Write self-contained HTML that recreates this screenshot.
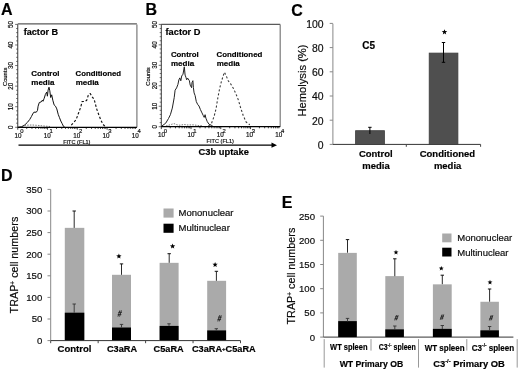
<!DOCTYPE html>
<html><head><meta charset="utf-8"><style>
html,body{margin:0;padding:0;background:#fff;width:520px;height:372px;overflow:hidden;}
svg{filter:grayscale(1) blur(0.3px);}
text{stroke:#000;stroke-width:0.18px;}
text{font-family:"Liberation Sans", sans-serif;}
</style></head><body>
<svg width="520" height="372" viewBox="0 0 520 372" style="display:block">
<g font-family='"Liberation Sans", sans-serif'>
<rect x="0" y="0" width="520" height="372" fill="#fff"/>
<text x="1.0" y="15.2" font-size="16" font-weight="bold" >A</text>
<text x="145.5" y="15.2" font-size="16" font-weight="bold" >B</text>
<text x="291.3" y="15.6" font-size="16" font-weight="bold" >C</text>
<text x="1.0" y="181.2" font-size="16" font-weight="bold" >D</text>
<text x="281.8" y="207.8" font-size="16" font-weight="bold" >E</text>
<line x1="17.75" y1="23.95" x2="136.9" y2="23.95" stroke="#5a5a5a" stroke-width="1.25" />
<line x1="136.9" y1="24.4" x2="136.9" y2="127.3" stroke="#7a7a7a" stroke-width="1.2" />
<line x1="17.75" y1="24.4" x2="17.75" y2="127.3" stroke="#222" stroke-width="0.9" />
<line x1="15.15" y1="127.3" x2="17.75" y2="127.3" stroke="#333" stroke-width="0.7" />
<line x1="16.15" y1="123.184" x2="17.75" y2="123.184" stroke="#333" stroke-width="0.7" />
<line x1="16.15" y1="119.068" x2="17.75" y2="119.068" stroke="#333" stroke-width="0.7" />
<line x1="16.15" y1="114.952" x2="17.75" y2="114.952" stroke="#333" stroke-width="0.7" />
<line x1="16.15" y1="110.836" x2="17.75" y2="110.836" stroke="#333" stroke-width="0.7" />
<line x1="15.15" y1="106.72" x2="17.75" y2="106.72" stroke="#333" stroke-width="0.7" />
<line x1="16.15" y1="102.60399999999998" x2="17.75" y2="102.60399999999998" stroke="#333" stroke-width="0.7" />
<line x1="16.15" y1="98.488" x2="17.75" y2="98.488" stroke="#333" stroke-width="0.7" />
<line x1="16.15" y1="94.37199999999999" x2="17.75" y2="94.37199999999999" stroke="#333" stroke-width="0.7" />
<line x1="16.15" y1="90.256" x2="17.75" y2="90.256" stroke="#333" stroke-width="0.7" />
<line x1="15.15" y1="86.13999999999999" x2="17.75" y2="86.13999999999999" stroke="#333" stroke-width="0.7" />
<line x1="16.15" y1="82.024" x2="17.75" y2="82.024" stroke="#333" stroke-width="0.7" />
<line x1="16.15" y1="77.90799999999999" x2="17.75" y2="77.90799999999999" stroke="#333" stroke-width="0.7" />
<line x1="16.15" y1="73.79199999999999" x2="17.75" y2="73.79199999999999" stroke="#333" stroke-width="0.7" />
<line x1="16.15" y1="69.67599999999999" x2="17.75" y2="69.67599999999999" stroke="#333" stroke-width="0.7" />
<line x1="15.15" y1="65.55999999999999" x2="17.75" y2="65.55999999999999" stroke="#333" stroke-width="0.7" />
<line x1="16.15" y1="61.44399999999999" x2="17.75" y2="61.44399999999999" stroke="#333" stroke-width="0.7" />
<line x1="16.15" y1="57.32799999999999" x2="17.75" y2="57.32799999999999" stroke="#333" stroke-width="0.7" />
<line x1="16.15" y1="53.21199999999999" x2="17.75" y2="53.21199999999999" stroke="#333" stroke-width="0.7" />
<line x1="16.15" y1="49.09599999999999" x2="17.75" y2="49.09599999999999" stroke="#333" stroke-width="0.7" />
<line x1="15.15" y1="44.97999999999999" x2="17.75" y2="44.97999999999999" stroke="#333" stroke-width="0.7" />
<line x1="16.15" y1="40.86399999999999" x2="17.75" y2="40.86399999999999" stroke="#333" stroke-width="0.7" />
<line x1="16.15" y1="36.74799999999999" x2="17.75" y2="36.74799999999999" stroke="#333" stroke-width="0.7" />
<line x1="16.15" y1="32.63199999999999" x2="17.75" y2="32.63199999999999" stroke="#333" stroke-width="0.7" />
<line x1="16.15" y1="28.515999999999977" x2="17.75" y2="28.515999999999977" stroke="#333" stroke-width="0.7" />
<line x1="15.15" y1="24.399999999999977" x2="17.75" y2="24.399999999999977" stroke="#333" stroke-width="0.7" />
<text x="13.45" y="127.3" font-size="6.3" text-anchor="middle" fill="#222" transform="rotate(-90 13.45 127.3)" >0</text>
<text x="13.45" y="106.72" font-size="6.3" text-anchor="middle" fill="#222" transform="rotate(-90 13.45 106.72)" >10</text>
<text x="13.45" y="86.13999999999999" font-size="6.3" text-anchor="middle" fill="#222" transform="rotate(-90 13.45 86.13999999999999)" >20</text>
<text x="13.45" y="65.55999999999999" font-size="6.3" text-anchor="middle" fill="#222" transform="rotate(-90 13.45 65.55999999999999)" >30</text>
<text x="13.45" y="44.97999999999999" font-size="6.3" text-anchor="middle" fill="#222" transform="rotate(-90 13.45 44.97999999999999)" >40</text>
<text x="13.45" y="24.399999999999977" font-size="6.3" text-anchor="middle" fill="#222" transform="rotate(-90 13.45 24.399999999999977)" >50</text>
<text x="6.65" y="76.85" font-size="6.0" text-anchor="middle" fill="#222" textLength="18.4" lengthAdjust="spacingAndGlyphs" transform="rotate(-90 6.65 76.85)" >Counts</text>
<text x="18.05" y="137.7" font-size="6.3" text-anchor="middle" fill="#222" >10</text>
<text x="21.95" y="133.4" font-size="5.9" text-anchor="middle" fill="#222" >0</text>
<text x="47.35" y="137.7" font-size="6.3" text-anchor="middle" fill="#222" >10</text>
<text x="51.25" y="133.4" font-size="5.9" text-anchor="middle" fill="#222" >1</text>
<text x="76.65" y="137.7" font-size="6.3" text-anchor="middle" fill="#222" >10</text>
<text x="80.55000000000001" y="133.4" font-size="5.9" text-anchor="middle" fill="#222" >2</text>
<text x="105.95" y="137.7" font-size="6.3" text-anchor="middle" fill="#222" >10</text>
<text x="109.85000000000001" y="133.4" font-size="5.9" text-anchor="middle" fill="#222" >3</text>
<text x="135.25" y="137.7" font-size="6.3" text-anchor="middle" fill="#222" >10</text>
<text x="139.15" y="133.4" font-size="5.9" text-anchor="middle" fill="#222" >4</text>
<line x1="17.75" y1="127.3" x2="17.75" y2="129.7" stroke="#111" stroke-width="0.8" />
<line x1="26.71693099584084" y1="127.3" x2="26.71693099584084" y2="128.9" stroke="#111" stroke-width="0.8" />
<line x1="31.962249374961946" y1="127.3" x2="31.962249374961946" y2="128.9" stroke="#111" stroke-width="0.8" />
<line x1="35.68386199168168" y1="127.3" x2="35.68386199168168" y2="128.9" stroke="#111" stroke-width="0.8" />
<line x1="38.57056900415917" y1="127.3" x2="38.57056900415917" y2="128.9" stroke="#111" stroke-width="0.8" />
<line x1="40.92918037080278" y1="127.3" x2="40.92918037080278" y2="128.9" stroke="#111" stroke-width="0.8" />
<line x1="42.923357866924675" y1="127.3" x2="42.923357866924675" y2="128.9" stroke="#111" stroke-width="0.8" />
<line x1="44.65079298752252" y1="127.3" x2="44.65079298752252" y2="128.9" stroke="#111" stroke-width="0.8" />
<line x1="46.17449874992389" y1="127.3" x2="46.17449874992389" y2="128.9" stroke="#111" stroke-width="0.8" />
<line x1="47.5375" y1="127.3" x2="47.5375" y2="129.7" stroke="#111" stroke-width="0.8" />
<line x1="56.50443099584084" y1="127.3" x2="56.50443099584084" y2="128.9" stroke="#111" stroke-width="0.8" />
<line x1="61.74974937496195" y1="127.3" x2="61.74974937496195" y2="128.9" stroke="#111" stroke-width="0.8" />
<line x1="65.47136199168168" y1="127.3" x2="65.47136199168168" y2="128.9" stroke="#111" stroke-width="0.8" />
<line x1="68.35806900415916" y1="127.3" x2="68.35806900415916" y2="128.9" stroke="#111" stroke-width="0.8" />
<line x1="70.71668037080279" y1="127.3" x2="70.71668037080279" y2="128.9" stroke="#111" stroke-width="0.8" />
<line x1="72.71085786692467" y1="127.3" x2="72.71085786692467" y2="128.9" stroke="#111" stroke-width="0.8" />
<line x1="74.43829298752252" y1="127.3" x2="74.43829298752252" y2="128.9" stroke="#111" stroke-width="0.8" />
<line x1="75.9619987499239" y1="127.3" x2="75.9619987499239" y2="128.9" stroke="#111" stroke-width="0.8" />
<line x1="77.325" y1="127.3" x2="77.325" y2="129.7" stroke="#111" stroke-width="0.8" />
<line x1="86.29193099584084" y1="127.3" x2="86.29193099584084" y2="128.9" stroke="#111" stroke-width="0.8" />
<line x1="91.53724937496195" y1="127.3" x2="91.53724937496195" y2="128.9" stroke="#111" stroke-width="0.8" />
<line x1="95.25886199168168" y1="127.3" x2="95.25886199168168" y2="128.9" stroke="#111" stroke-width="0.8" />
<line x1="98.14556900415917" y1="127.3" x2="98.14556900415917" y2="128.9" stroke="#111" stroke-width="0.8" />
<line x1="100.50418037080279" y1="127.3" x2="100.50418037080279" y2="128.9" stroke="#111" stroke-width="0.8" />
<line x1="102.49835786692468" y1="127.3" x2="102.49835786692468" y2="128.9" stroke="#111" stroke-width="0.8" />
<line x1="104.22579298752252" y1="127.3" x2="104.22579298752252" y2="128.9" stroke="#111" stroke-width="0.8" />
<line x1="105.7494987499239" y1="127.3" x2="105.7494987499239" y2="128.9" stroke="#111" stroke-width="0.8" />
<line x1="107.11250000000001" y1="127.3" x2="107.11250000000001" y2="129.7" stroke="#111" stroke-width="0.8" />
<line x1="116.07943099584085" y1="127.3" x2="116.07943099584085" y2="128.9" stroke="#111" stroke-width="0.8" />
<line x1="121.32474937496195" y1="127.3" x2="121.32474937496195" y2="128.9" stroke="#111" stroke-width="0.8" />
<line x1="125.04636199168169" y1="127.3" x2="125.04636199168169" y2="128.9" stroke="#111" stroke-width="0.8" />
<line x1="127.93306900415918" y1="127.3" x2="127.93306900415918" y2="128.9" stroke="#111" stroke-width="0.8" />
<line x1="130.2916803708028" y1="127.3" x2="130.2916803708028" y2="128.9" stroke="#111" stroke-width="0.8" />
<line x1="132.2858578669247" y1="127.3" x2="132.2858578669247" y2="128.9" stroke="#111" stroke-width="0.8" />
<line x1="134.01329298752253" y1="127.3" x2="134.01329298752253" y2="128.9" stroke="#111" stroke-width="0.8" />
<line x1="135.5369987499239" y1="127.3" x2="135.5369987499239" y2="128.9" stroke="#111" stroke-width="0.8" />
<text x="76.825" y="143.9" font-size="5.6" text-anchor="middle" fill="#222" >FITC (FL1)</text>
<polyline points="17.75,127.3 21.8,126.7 24.8,124.9 27.3,122.5 29.7,119.5 31.5,116.4 32.7,114 33.9,112.2 36.3,112.2 37.5,110.4 38.1,106.2 39.3,102.5 41.2,101.9 42.4,100.1 43,101.3 44.2,98.3 45.4,94.4 46.7,92.1 47.4,96.2 48.1,90.1 49,87.2 49.8,90.8 50.7,97.5 51.7,94.8 52.8,100.2 54.1,104.9 55.5,106.2 56.8,108.9 58.2,114.3 59.5,117.7 60.8,121 62.2,123.7 63.5,126.4 64.9,127.3" fill="none" stroke="#111" stroke-width="1.0" stroke-linejoin="round"/>
<polyline points="71.3,125.1 76.1,119.7 78.1,114.3 80.8,106.9 82.1,101.5 84.8,101.5 86.8,100.2 88.2,95.5 90.2,93.5 92.2,96.8 94.2,99.5 95.6,104.9 96.9,109.6 98.9,115 101,120.4 103,124.4 105,126.4" fill="none" stroke="#111" stroke-width="1.15" stroke-linejoin="round" stroke-dasharray="2.4,1.9"/>
<polyline points="22,126.5 26,125.2 32,125 38,125.4 44,126 50,126.5" fill="none" stroke="#444" stroke-width="0.7" stroke-linejoin="round" stroke-dasharray="1.5,1.2"/>
<line x1="17.75" y1="127.3" x2="136.9" y2="127.3" stroke="#000" stroke-width="1.3" />
<text x="23.65" y="34.7" font-size="9.0" font-weight="bold" textLength="34.6" lengthAdjust="spacingAndGlyphs" >factor B</text>
<line x1="161.3" y1="24.4" x2="280.2" y2="24.4" stroke="#5a5a5a" stroke-width="1.25" />
<line x1="280.2" y1="24.4" x2="280.2" y2="126.7" stroke="#7a7a7a" stroke-width="1.2" />
<line x1="161.3" y1="24.4" x2="161.3" y2="126.7" stroke="#222" stroke-width="0.9" />
<line x1="158.70000000000002" y1="126.7" x2="161.3" y2="126.7" stroke="#333" stroke-width="0.7" />
<line x1="159.70000000000002" y1="122.608" x2="161.3" y2="122.608" stroke="#333" stroke-width="0.7" />
<line x1="159.70000000000002" y1="118.516" x2="161.3" y2="118.516" stroke="#333" stroke-width="0.7" />
<line x1="159.70000000000002" y1="114.424" x2="161.3" y2="114.424" stroke="#333" stroke-width="0.7" />
<line x1="159.70000000000002" y1="110.332" x2="161.3" y2="110.332" stroke="#333" stroke-width="0.7" />
<line x1="158.70000000000002" y1="106.24000000000001" x2="161.3" y2="106.24000000000001" stroke="#333" stroke-width="0.7" />
<line x1="159.70000000000002" y1="102.148" x2="161.3" y2="102.148" stroke="#333" stroke-width="0.7" />
<line x1="159.70000000000002" y1="98.056" x2="161.3" y2="98.056" stroke="#333" stroke-width="0.7" />
<line x1="159.70000000000002" y1="93.964" x2="161.3" y2="93.964" stroke="#333" stroke-width="0.7" />
<line x1="159.70000000000002" y1="89.872" x2="161.3" y2="89.872" stroke="#333" stroke-width="0.7" />
<line x1="158.70000000000002" y1="85.78" x2="161.3" y2="85.78" stroke="#333" stroke-width="0.7" />
<line x1="159.70000000000002" y1="81.68799999999999" x2="161.3" y2="81.68799999999999" stroke="#333" stroke-width="0.7" />
<line x1="159.70000000000002" y1="77.596" x2="161.3" y2="77.596" stroke="#333" stroke-width="0.7" />
<line x1="159.70000000000002" y1="73.50399999999999" x2="161.3" y2="73.50399999999999" stroke="#333" stroke-width="0.7" />
<line x1="159.70000000000002" y1="69.41199999999999" x2="161.3" y2="69.41199999999999" stroke="#333" stroke-width="0.7" />
<line x1="158.70000000000002" y1="65.32" x2="161.3" y2="65.32" stroke="#333" stroke-width="0.7" />
<line x1="159.70000000000002" y1="61.227999999999994" x2="161.3" y2="61.227999999999994" stroke="#333" stroke-width="0.7" />
<line x1="159.70000000000002" y1="57.135999999999996" x2="161.3" y2="57.135999999999996" stroke="#333" stroke-width="0.7" />
<line x1="159.70000000000002" y1="53.044" x2="161.3" y2="53.044" stroke="#333" stroke-width="0.7" />
<line x1="159.70000000000002" y1="48.952" x2="161.3" y2="48.952" stroke="#333" stroke-width="0.7" />
<line x1="158.70000000000002" y1="44.86" x2="161.3" y2="44.86" stroke="#333" stroke-width="0.7" />
<line x1="159.70000000000002" y1="40.76799999999999" x2="161.3" y2="40.76799999999999" stroke="#333" stroke-width="0.7" />
<line x1="159.70000000000002" y1="36.67599999999999" x2="161.3" y2="36.67599999999999" stroke="#333" stroke-width="0.7" />
<line x1="159.70000000000002" y1="32.58399999999999" x2="161.3" y2="32.58399999999999" stroke="#333" stroke-width="0.7" />
<line x1="159.70000000000002" y1="28.49199999999999" x2="161.3" y2="28.49199999999999" stroke="#333" stroke-width="0.7" />
<line x1="158.70000000000002" y1="24.39999999999999" x2="161.3" y2="24.39999999999999" stroke="#333" stroke-width="0.7" />
<text x="157.0" y="126.7" font-size="6.3" text-anchor="middle" fill="#222" transform="rotate(-90 157.0 126.7)" >0</text>
<text x="157.0" y="106.24000000000001" font-size="6.3" text-anchor="middle" fill="#222" transform="rotate(-90 157.0 106.24000000000001)" >10</text>
<text x="157.0" y="85.78" font-size="6.3" text-anchor="middle" fill="#222" transform="rotate(-90 157.0 85.78)" >20</text>
<text x="157.0" y="65.32" font-size="6.3" text-anchor="middle" fill="#222" transform="rotate(-90 157.0 65.32)" >30</text>
<text x="157.0" y="44.86" font-size="6.3" text-anchor="middle" fill="#222" transform="rotate(-90 157.0 44.86)" >40</text>
<text x="157.0" y="24.39999999999999" font-size="6.3" text-anchor="middle" fill="#222" transform="rotate(-90 157.0 24.39999999999999)" >50</text>
<text x="150.20000000000002" y="76.55" font-size="6.0" text-anchor="middle" fill="#222" textLength="18.4" lengthAdjust="spacingAndGlyphs" transform="rotate(-90 150.20000000000002 76.55)" >Counts</text>
<text x="161.60000000000002" y="137.1" font-size="6.3" text-anchor="middle" fill="#222" >10</text>
<text x="165.50000000000003" y="132.8" font-size="5.9" text-anchor="middle" fill="#222" >0</text>
<text x="190.90000000000003" y="137.1" font-size="6.3" text-anchor="middle" fill="#222" >10</text>
<text x="194.80000000000004" y="132.8" font-size="5.9" text-anchor="middle" fill="#222" >1</text>
<text x="220.20000000000002" y="137.1" font-size="6.3" text-anchor="middle" fill="#222" >10</text>
<text x="224.10000000000002" y="132.8" font-size="5.9" text-anchor="middle" fill="#222" >2</text>
<text x="249.50000000000003" y="137.1" font-size="6.3" text-anchor="middle" fill="#222" >10</text>
<text x="253.40000000000003" y="132.8" font-size="5.9" text-anchor="middle" fill="#222" >3</text>
<text x="278.8" y="137.1" font-size="6.3" text-anchor="middle" fill="#222" >10</text>
<text x="282.7" y="132.8" font-size="5.9" text-anchor="middle" fill="#222" >4</text>
<line x1="161.3" y1="126.7" x2="161.3" y2="129.1" stroke="#111" stroke-width="0.8" />
<line x1="170.24811662111185" y1="126.7" x2="170.24811662111185" y2="128.3" stroke="#111" stroke-width="0.8" />
<line x1="175.48242929654197" y1="126.7" x2="175.48242929654197" y2="128.3" stroke="#111" stroke-width="0.8" />
<line x1="179.19623324222368" y1="126.7" x2="179.19623324222368" y2="128.3" stroke="#111" stroke-width="0.8" />
<line x1="182.07688337888817" y1="126.7" x2="182.07688337888817" y2="128.3" stroke="#111" stroke-width="0.8" />
<line x1="184.4305459176538" y1="126.7" x2="184.4305459176538" y2="128.3" stroke="#111" stroke-width="0.8" />
<line x1="186.4205392394238" y1="126.7" x2="186.4205392394238" y2="128.3" stroke="#111" stroke-width="0.8" />
<line x1="188.14434986333552" y1="126.7" x2="188.14434986333552" y2="128.3" stroke="#111" stroke-width="0.8" />
<line x1="189.66485859308395" y1="126.7" x2="189.66485859308395" y2="128.3" stroke="#111" stroke-width="0.8" />
<line x1="191.025" y1="126.7" x2="191.025" y2="129.1" stroke="#111" stroke-width="0.8" />
<line x1="199.97311662111184" y1="126.7" x2="199.97311662111184" y2="128.3" stroke="#111" stroke-width="0.8" />
<line x1="205.20742929654196" y1="126.7" x2="205.20742929654196" y2="128.3" stroke="#111" stroke-width="0.8" />
<line x1="208.92123324222368" y1="126.7" x2="208.92123324222368" y2="128.3" stroke="#111" stroke-width="0.8" />
<line x1="211.80188337888816" y1="126.7" x2="211.80188337888816" y2="128.3" stroke="#111" stroke-width="0.8" />
<line x1="214.1555459176538" y1="126.7" x2="214.1555459176538" y2="128.3" stroke="#111" stroke-width="0.8" />
<line x1="216.14553923942378" y1="126.7" x2="216.14553923942378" y2="128.3" stroke="#111" stroke-width="0.8" />
<line x1="217.86934986333551" y1="126.7" x2="217.86934986333551" y2="128.3" stroke="#111" stroke-width="0.8" />
<line x1="219.38985859308394" y1="126.7" x2="219.38985859308394" y2="128.3" stroke="#111" stroke-width="0.8" />
<line x1="220.75" y1="126.7" x2="220.75" y2="129.1" stroke="#111" stroke-width="0.8" />
<line x1="229.69811662111184" y1="126.7" x2="229.69811662111184" y2="128.3" stroke="#111" stroke-width="0.8" />
<line x1="234.93242929654195" y1="126.7" x2="234.93242929654195" y2="128.3" stroke="#111" stroke-width="0.8" />
<line x1="238.64623324222367" y1="126.7" x2="238.64623324222367" y2="128.3" stroke="#111" stroke-width="0.8" />
<line x1="241.52688337888816" y1="126.7" x2="241.52688337888816" y2="128.3" stroke="#111" stroke-width="0.8" />
<line x1="243.8805459176538" y1="126.7" x2="243.8805459176538" y2="128.3" stroke="#111" stroke-width="0.8" />
<line x1="245.87053923942378" y1="126.7" x2="245.87053923942378" y2="128.3" stroke="#111" stroke-width="0.8" />
<line x1="247.5943498633355" y1="126.7" x2="247.5943498633355" y2="128.3" stroke="#111" stroke-width="0.8" />
<line x1="249.11485859308394" y1="126.7" x2="249.11485859308394" y2="128.3" stroke="#111" stroke-width="0.8" />
<line x1="250.475" y1="126.7" x2="250.475" y2="129.1" stroke="#111" stroke-width="0.8" />
<line x1="259.42311662111183" y1="126.7" x2="259.42311662111183" y2="128.3" stroke="#111" stroke-width="0.8" />
<line x1="264.657429296542" y1="126.7" x2="264.657429296542" y2="128.3" stroke="#111" stroke-width="0.8" />
<line x1="268.3712332422237" y1="126.7" x2="268.3712332422237" y2="128.3" stroke="#111" stroke-width="0.8" />
<line x1="271.2518833788881" y1="126.7" x2="271.2518833788881" y2="128.3" stroke="#111" stroke-width="0.8" />
<line x1="273.6055459176538" y1="126.7" x2="273.6055459176538" y2="128.3" stroke="#111" stroke-width="0.8" />
<line x1="275.5955392394238" y1="126.7" x2="275.5955392394238" y2="128.3" stroke="#111" stroke-width="0.8" />
<line x1="277.3193498633355" y1="126.7" x2="277.3193498633355" y2="128.3" stroke="#111" stroke-width="0.8" />
<line x1="278.83985859308393" y1="126.7" x2="278.83985859308393" y2="128.3" stroke="#111" stroke-width="0.8" />
<text x="220.25" y="143.3" font-size="5.6" text-anchor="middle" fill="#222" >FITC (FL1)</text>
<polyline points="161.3,126.6 161.9,126 165.7,123.2 168.5,118.5 170.4,114.7 172.3,108.1 174.2,97.7 175.1,90.2 176.6,87.9 177.9,84.5 178.9,79.8 179.8,77.9 180.8,80.8 181.7,76 183,74.2 184.3,66.8 185.1,75.1 185.9,77.2 186.7,79.8 187.6,78.1 189.4,80.7 190.2,85.1 191.6,87.7 192,82.5 192.9,80.7 193.4,87.7 194.1,92.9 195.1,95.5 196.3,101.6 197.6,104.3 199,106 200.4,109.5 201.6,112.1 203.3,115.6 204.2,117.4 205.1,114.7 205.9,118.2 207.3,121.7 209.1,124.3 211.2,125.2 212.9,126.3" fill="none" stroke="#222" stroke-width="1.0" stroke-linejoin="round"/>
<polyline points="208.5,125.8 211.3,123.9 214.1,116.4 216,108.9 217.9,97.6 219.7,88.2 221.6,80.7 223.5,75 224.4,72.2 226.3,76 228.2,80.7 231,84.4 233.8,89.1 236.7,95.7 238.5,100.4 240.4,107 243.2,115.5 246.1,122 249.8,124.8" fill="none" stroke="#333" stroke-width="1.05" stroke-linejoin="round" stroke-dasharray="2.1,2.0"/>
<polyline points="166,126 170,124.8 174,123.6 177,124.8 180,125.2 184,124.5 188,125 193,124.8 198,125.5 203,125.8" fill="none" stroke="#444" stroke-width="0.7" stroke-linejoin="round" stroke-dasharray="1.5,1.2"/>
<line x1="161.3" y1="126.7" x2="280.2" y2="126.7" stroke="#000" stroke-width="1.3" />
<text x="165.5" y="34.7" font-size="9.0" font-weight="bold" textLength="35.0" lengthAdjust="spacingAndGlyphs" >factor D</text>
<text x="31.2" y="75.8" font-size="8.0" font-weight="bold" textLength="28.3" lengthAdjust="spacingAndGlyphs" >Control</text>
<text x="31.3" y="84.8" font-size="8.0" font-weight="bold" >media</text>
<text x="75.6" y="75.7" font-size="8.0" font-weight="bold" textLength="45.4" lengthAdjust="spacingAndGlyphs" >Conditioned</text>
<text x="75.7" y="84.8" font-size="8.0" font-weight="bold" >media</text>
<text x="170.9" y="56.8" font-size="8.0" font-weight="bold" textLength="27.9" lengthAdjust="spacingAndGlyphs" >Control</text>
<text x="171.0" y="65.7" font-size="8.0" font-weight="bold" >media</text>
<text x="216.6" y="56.8" font-size="8.0" font-weight="bold" textLength="45.7" lengthAdjust="spacingAndGlyphs" >Conditioned</text>
<text x="216.7" y="65.7" font-size="8.0" font-weight="bold" >media</text>
<line x1="18.5" y1="145.2" x2="273" y2="145.2" stroke="#000" stroke-width="1.2" />
<polygon points="271.5,142.6 277,145.2 271.5,147.8" fill="#000"/>
<text x="223.7" y="154.7" font-size="9.6" font-weight="bold" text-anchor="middle" textLength="50.3" lengthAdjust="spacingAndGlyphs" >C3b uptake</text>
<line x1="332.9" y1="23.7" x2="332.9" y2="144.4" stroke="#888" stroke-width="1" />
<line x1="329.7" y1="144.4" x2="332.9" y2="144.4" stroke="#888" stroke-width="1" />
<text x="323.5" y="148.70000000000002" font-size="10.4" text-anchor="end" fill="#111" >0</text>
<line x1="329.7" y1="120.2" x2="332.9" y2="120.2" stroke="#888" stroke-width="1" />
<text x="323.5" y="124.5" font-size="10.4" text-anchor="end" fill="#111" >20</text>
<line x1="329.7" y1="96.0" x2="332.9" y2="96.0" stroke="#888" stroke-width="1" />
<text x="323.5" y="100.3" font-size="10.4" text-anchor="end" fill="#111" >40</text>
<line x1="329.7" y1="71.80000000000001" x2="332.9" y2="71.80000000000001" stroke="#888" stroke-width="1" />
<text x="323.5" y="76.10000000000001" font-size="10.4" text-anchor="end" fill="#111" >60</text>
<line x1="329.7" y1="47.60000000000001" x2="332.9" y2="47.60000000000001" stroke="#888" stroke-width="1" />
<text x="323.5" y="51.900000000000006" font-size="10.4" text-anchor="end" fill="#111" >80</text>
<line x1="329.7" y1="23.400000000000006" x2="332.9" y2="23.400000000000006" stroke="#888" stroke-width="1" />
<text x="323.5" y="27.700000000000006" font-size="10.4" text-anchor="end" fill="#111" >100</text>
<line x1="332.9" y1="144.4" x2="480.6" y2="144.4" stroke="#333" stroke-width="1" />
<line x1="406.3" y1="144.4" x2="406.3" y2="146.8" stroke="#444" stroke-width="1" />
<line x1="480.6" y1="144.4" x2="480.6" y2="146.8" stroke="#444" stroke-width="1" />
<text x="305.5" y="80.5" font-size="11.2" text-anchor="middle" fill="#111" transform="rotate(-90 305.5 80.5)" >Hemolysis (%)</text>
<rect x="355.6" y="130.7" width="28.8" height="13.7" fill="#4f4f4f" stroke="#3c3c3c" stroke-width="0.8"/>
<rect x="429.2" y="53.1" width="28.7" height="91.3" fill="#4f4f4f" stroke="#3c3c3c" stroke-width="0.8"/>
<line x1="369.9" y1="127.3" x2="369.9" y2="134" stroke="#000" stroke-width="1" />
<line x1="368.2" y1="127.3" x2="371.6" y2="127.3" stroke="#000" stroke-width="1" />
<line x1="443.5" y1="42.5" x2="443.5" y2="62.3" stroke="#000" stroke-width="1" />
<line x1="441.8" y1="42.5" x2="445.2" y2="42.5" stroke="#000" stroke-width="1" />
<line x1="441.8" y1="62.3" x2="445.2" y2="62.3" stroke="#000" stroke-width="1" />
<polygon points="444.50,29.20 445.22,31.11 447.26,31.20 445.66,32.48 446.20,34.45 444.50,33.32 442.80,34.45 443.34,32.48 441.74,31.20 443.78,31.11" fill="#000"/>
<text x="362.2" y="49.2" font-size="10" font-weight="bold" >C5</text>
<text x="375.8" y="157.3" font-size="9.5" font-weight="bold" text-anchor="middle" transform="translate(0 157.3) scale(1 1.03) translate(0 -157.3)" >Control</text>
<text x="376.0" y="168.8" font-size="9.5" font-weight="bold" text-anchor="middle" transform="translate(0 168.8) scale(1 1.03) translate(0 -168.8)" >media</text>
<text x="447.4" y="157.3" font-size="9.5" font-weight="bold" text-anchor="middle" transform="translate(0 157.3) scale(1 1.03) translate(0 -157.3)" >Conditioned</text>
<text x="447.6" y="168.8" font-size="9.5" font-weight="bold" text-anchor="middle" transform="translate(0 168.8) scale(1 1.03) translate(0 -168.8)" >media</text>
<line x1="50.7" y1="189.5" x2="50.7" y2="340.6" stroke="#888" stroke-width="1" />
<line x1="47.5" y1="340.6" x2="50.7" y2="340.6" stroke="#888" stroke-width="1" />
<text x="42.300000000000004" y="344.0" font-size="9.6" text-anchor="end" fill="#111" >0</text>
<line x1="47.5" y1="319.0" x2="50.7" y2="319.0" stroke="#888" stroke-width="1" />
<text x="42.300000000000004" y="322.4" font-size="9.6" text-anchor="end" fill="#111" >50</text>
<line x1="47.5" y1="297.40000000000003" x2="50.7" y2="297.40000000000003" stroke="#888" stroke-width="1" />
<text x="42.300000000000004" y="300.8" font-size="9.6" text-anchor="end" fill="#111" >100</text>
<line x1="47.5" y1="275.8" x2="50.7" y2="275.8" stroke="#888" stroke-width="1" />
<text x="42.300000000000004" y="279.2" font-size="9.6" text-anchor="end" fill="#111" >150</text>
<line x1="47.5" y1="254.20000000000002" x2="50.7" y2="254.20000000000002" stroke="#888" stroke-width="1" />
<text x="42.300000000000004" y="257.6" font-size="9.6" text-anchor="end" fill="#111" >200</text>
<line x1="47.5" y1="232.60000000000002" x2="50.7" y2="232.60000000000002" stroke="#888" stroke-width="1" />
<text x="42.300000000000004" y="236.00000000000003" font-size="9.6" text-anchor="end" fill="#111" >250</text>
<line x1="47.5" y1="211.00000000000003" x2="50.7" y2="211.00000000000003" stroke="#888" stroke-width="1" />
<text x="42.300000000000004" y="214.40000000000003" font-size="9.6" text-anchor="end" fill="#111" >300</text>
<line x1="47.5" y1="189.40000000000003" x2="50.7" y2="189.40000000000003" stroke="#888" stroke-width="1" />
<text x="42.300000000000004" y="192.80000000000004" font-size="9.6" text-anchor="end" fill="#111" >350</text>
<line x1="50.7" y1="340.6" x2="240.5" y2="340.6" stroke="#333" stroke-width="1" />
<line x1="50.7" y1="340.6" x2="50.7" y2="343.20000000000005" stroke="#444" stroke-width="1" />
<line x1="98.15" y1="340.6" x2="98.15" y2="343.20000000000005" stroke="#444" stroke-width="1" />
<line x1="145.60000000000002" y1="340.6" x2="145.60000000000002" y2="343.20000000000005" stroke="#444" stroke-width="1" />
<line x1="193.05" y1="340.6" x2="193.05" y2="343.20000000000005" stroke="#444" stroke-width="1" />
<line x1="240.5" y1="340.6" x2="240.5" y2="343.20000000000005" stroke="#444" stroke-width="1" />
<text x="18.4" y="265.05" font-size="10.8" text-anchor="middle" fill="#111" transform="rotate(-90 18.4 265.05)" >TRAP<tspan font-size="6.5" dy="-3.5">+</tspan><tspan dy="3.5"> cell numbers</tspan></text>
<rect x="64.8" y="227.848" width="19.5" height="112.752" fill="#aaa"/>
<rect x="64.8" y="312.69280000000003" width="19.5" height="27.907199999999996" fill="#000"/>
<rect x="112.0" y="274.80640000000005" width="19.0" height="65.7936" fill="#aaa"/>
<rect x="112.0" y="327.5104" width="19.0" height="13.0896" fill="#000"/>
<rect x="159.6" y="262.84000000000003" width="19.0" height="77.76" fill="#aaa"/>
<rect x="159.6" y="325.91200000000003" width="19.0" height="14.688" fill="#000"/>
<rect x="207.2" y="280.81120000000004" width="18.9" height="59.7888" fill="#aaa"/>
<rect x="207.2" y="330.4048" width="18.9" height="10.1952" fill="#000"/>
<line x1="74.2" y1="211.0" x2="74.2" y2="227.9" stroke="#2a2a2a" stroke-width="1" />
<line x1="72.5" y1="211.0" x2="75.9" y2="211.0" stroke="#111" stroke-width="1" />
<line x1="121.5" y1="263.9" x2="121.5" y2="274.8" stroke="#2a2a2a" stroke-width="1" />
<line x1="119.8" y1="263.9" x2="123.2" y2="263.9" stroke="#111" stroke-width="1" />
<line x1="169.2" y1="253.7" x2="169.2" y2="262.8" stroke="#2a2a2a" stroke-width="1" />
<line x1="167.5" y1="253.7" x2="170.89999999999998" y2="253.7" stroke="#111" stroke-width="1" />
<line x1="216.4" y1="271.3" x2="216.4" y2="280.8" stroke="#2a2a2a" stroke-width="1" />
<line x1="214.70000000000002" y1="271.3" x2="218.1" y2="271.3" stroke="#111" stroke-width="1" />
<line x1="74.2" y1="304.0" x2="74.2" y2="312.7" stroke="#333" stroke-width="0.9" />
<line x1="72.5" y1="304.0" x2="75.9" y2="304.0" stroke="#333" stroke-width="0.9" />
<line x1="121.5" y1="324.4" x2="121.5" y2="327.5" stroke="#333" stroke-width="0.9" />
<line x1="119.8" y1="324.4" x2="123.2" y2="324.4" stroke="#333" stroke-width="0.9" />
<line x1="169.0" y1="323.8" x2="169.0" y2="325.9" stroke="#333" stroke-width="0.9" />
<line x1="167.3" y1="323.8" x2="170.7" y2="323.8" stroke="#333" stroke-width="0.9" />
<line x1="216.3" y1="328.7" x2="216.3" y2="330.4" stroke="#333" stroke-width="0.9" />
<line x1="214.60000000000002" y1="328.7" x2="218.0" y2="328.7" stroke="#333" stroke-width="0.9" />
<polygon points="118.90,253.50 119.59,255.35 121.56,255.43 120.02,256.66 120.55,258.57 118.90,257.48 117.25,258.57 117.78,256.66 116.24,255.43 118.21,255.35" fill="#000"/>
<polygon points="172.60,243.50 173.29,245.35 175.26,245.43 173.72,246.66 174.25,248.57 172.60,247.48 170.95,248.57 171.48,246.66 169.94,245.43 171.91,245.35" fill="#000"/>
<polygon points="215.10,261.90 215.79,263.75 217.76,263.83 216.22,265.06 216.75,266.97 215.10,265.88 213.45,266.97 213.98,265.06 212.44,263.83 214.41,263.75" fill="#000"/>
<path d="M117.95,316.60L119.85,310.40M119.55,316.60L121.45,310.40M118.30,312.38L121.90,312.38M117.70,314.62L121.30,314.62" stroke="#222" stroke-width="0.85" fill="none"/>
<path d="M217.75,321.40L219.65,315.20M219.35,321.40L221.25,315.20M218.10,317.18L221.70,317.18M217.50,319.42L221.10,319.42" stroke="#222" stroke-width="0.85" fill="none"/>
<rect x="163.5" y="208.5" width="10.1" height="9.1" fill="#aaa"/>
<rect x="163.5" y="223.7" width="10.1" height="9.1" fill="#000"/>
<text x="178.6" y="215.7" font-size="9.5" fill="#111" >Mononuclear</text>
<text x="178.6" y="231.4" font-size="9.5" fill="#111" >Multinuclear</text>
<text x="74.5" y="352.3" font-size="9.55" font-weight="bold" text-anchor="middle" transform="translate(0 352.3) scale(1 1.03) translate(0 -352.3)" >Control</text>
<text x="122.0" y="352.3" font-size="9.2" font-weight="bold" text-anchor="middle" transform="translate(0 352.3) scale(1 1.03) translate(0 -352.3)" >C3aRA</text>
<text x="168.6" y="352.3" font-size="9.2" font-weight="bold" text-anchor="middle" transform="translate(0 352.3) scale(1 1.03) translate(0 -352.3)" >C5aRA</text>
<text x="223.8" y="352.3" font-size="9.2" font-weight="bold" text-anchor="middle" transform="translate(0 352.3) scale(1 1.03) translate(0 -352.3)" >C3aRA<tspan font-size="6" dy="-1.6">+</tspan><tspan dy="1.6">C5aRA</tspan></text>
<line x1="323.4" y1="216.1" x2="323.4" y2="337.1" stroke="#888" stroke-width="1" />
<line x1="320.2" y1="337.1" x2="323.4" y2="337.1" stroke="#888" stroke-width="1" />
<text x="315.0" y="340.5" font-size="9.6" text-anchor="end" fill="#111" >0</text>
<line x1="320.2" y1="312.90000000000003" x2="323.4" y2="312.90000000000003" stroke="#888" stroke-width="1" />
<text x="315.0" y="316.3" font-size="9.6" text-anchor="end" fill="#111" >50</text>
<line x1="320.2" y1="288.70000000000005" x2="323.4" y2="288.70000000000005" stroke="#888" stroke-width="1" />
<text x="315.0" y="292.1" font-size="9.6" text-anchor="end" fill="#111" >100</text>
<line x1="320.2" y1="264.5" x2="323.4" y2="264.5" stroke="#888" stroke-width="1" />
<text x="315.0" y="267.9" font-size="9.6" text-anchor="end" fill="#111" >150</text>
<line x1="320.2" y1="240.3" x2="323.4" y2="240.3" stroke="#888" stroke-width="1" />
<text x="315.0" y="243.70000000000002" font-size="9.6" text-anchor="end" fill="#111" >200</text>
<line x1="320.2" y1="216.10000000000002" x2="323.4" y2="216.10000000000002" stroke="#888" stroke-width="1" />
<text x="315.0" y="219.50000000000003" font-size="9.6" text-anchor="end" fill="#111" >250</text>
<line x1="323.4" y1="337.1" x2="513.4" y2="337.1" stroke="#333" stroke-width="1" />
<text x="295.4" y="276.1" font-size="10.8" text-anchor="middle" fill="#111" transform="rotate(-90 295.4 276.1)" >TRAP<tspan font-size="6.5" dy="-3.5">+</tspan><tspan dy="3.5"> cell numbers</tspan></text>
<rect x="338.2" y="252.88400000000001" width="18.6" height="84.216" fill="#aaa"/>
<rect x="338.2" y="321.12800000000004" width="18.6" height="15.972" fill="#000"/>
<rect x="385.3" y="276.11600000000004" width="18.6" height="60.983999999999995" fill="#aaa"/>
<rect x="385.3" y="329.356" width="18.6" height="7.744" fill="#000"/>
<rect x="432.9" y="284.34400000000005" width="18.8" height="52.756" fill="#aaa"/>
<rect x="432.9" y="328.872" width="18.8" height="8.228" fill="#000"/>
<rect x="480.4" y="301.76800000000003" width="18.5" height="35.332" fill="#aaa"/>
<rect x="480.4" y="330.324" width="18.5" height="6.776" fill="#000"/>
<line x1="347.5" y1="239.6" x2="347.5" y2="252.7" stroke="#2a2a2a" stroke-width="1" />
<line x1="345.8" y1="239.6" x2="349.2" y2="239.6" stroke="#111" stroke-width="1" />
<line x1="394.8" y1="258.8" x2="394.8" y2="276.2" stroke="#2a2a2a" stroke-width="1" />
<line x1="393.1" y1="258.8" x2="396.5" y2="258.8" stroke="#111" stroke-width="1" />
<line x1="442.3" y1="275.2" x2="442.3" y2="284.2" stroke="#2a2a2a" stroke-width="1" />
<line x1="440.6" y1="275.2" x2="444.0" y2="275.2" stroke="#111" stroke-width="1" />
<line x1="489.6" y1="289" x2="489.6" y2="301.7" stroke="#2a2a2a" stroke-width="1" />
<line x1="487.90000000000003" y1="289" x2="491.3" y2="289" stroke="#111" stroke-width="1" />
<line x1="347.5" y1="318.4" x2="347.5" y2="321.5" stroke="#333" stroke-width="0.9" />
<line x1="345.8" y1="318.4" x2="349.2" y2="318.4" stroke="#333" stroke-width="0.9" />
<line x1="394.8" y1="326" x2="394.8" y2="329.6" stroke="#333" stroke-width="0.9" />
<line x1="393.1" y1="326" x2="396.5" y2="326" stroke="#333" stroke-width="0.9" />
<line x1="442.3" y1="325.5" x2="442.3" y2="329" stroke="#333" stroke-width="0.9" />
<line x1="440.6" y1="325.5" x2="444.0" y2="325.5" stroke="#333" stroke-width="0.9" />
<line x1="489.6" y1="326.5" x2="489.6" y2="330.3" stroke="#333" stroke-width="0.9" />
<line x1="487.90000000000003" y1="326.5" x2="491.3" y2="326.5" stroke="#333" stroke-width="0.9" />
<polygon points="396.00,249.70 396.64,251.42 398.47,251.50 397.04,252.64 397.53,254.40 396.00,253.39 394.47,254.40 394.96,252.64 393.53,251.50 395.36,251.42" fill="#000"/>
<polygon points="441.30,265.90 441.94,267.62 443.77,267.70 442.34,268.84 442.83,270.60 441.30,269.59 439.77,270.60 440.26,268.84 438.83,267.70 440.66,267.62" fill="#000"/>
<polygon points="490.00,279.70 490.64,281.42 492.47,281.50 491.04,282.64 491.53,284.40 490.00,283.39 488.47,284.40 488.96,282.64 487.53,281.50 489.36,281.42" fill="#000"/>
<path d="M394.65,320.35L396.55,315.05M396.25,320.35L398.15,315.05M395.30,316.75L398.30,316.75M394.70,318.65L397.70,318.65" stroke="#222" stroke-width="0.85" fill="none"/>
<path d="M440.25,319.75L442.15,314.45M441.85,319.75L443.75,314.45M440.90,316.15L443.90,316.15M440.30,318.05L443.30,318.05" stroke="#222" stroke-width="0.85" fill="none"/>
<path d="M489.35,320.45L491.25,315.15M490.95,320.45L492.85,315.15M490.00,316.85L493.00,316.85M489.40,318.75L492.40,318.75" stroke="#222" stroke-width="0.85" fill="none"/>
<rect x="442.2" y="233.5" width="9.3" height="8.8" fill="#aaa"/>
<rect x="442.2" y="247.7" width="9.3" height="8.8" fill="#000"/>
<text x="457.3" y="240.5" font-size="9.5" fill="#111" >Mononuclear</text>
<text x="457.3" y="256.3" font-size="9.5" fill="#111" >Multinuclear</text>
<line x1="324.2" y1="339.1" x2="324.2" y2="367.6" stroke="#999" stroke-width="1" />
<line x1="371.0" y1="339.1" x2="371.0" y2="350.6" stroke="#999" stroke-width="1" />
<line x1="418.5" y1="339.1" x2="418.5" y2="367.6" stroke="#999" stroke-width="1" />
<line x1="466.8" y1="339.1" x2="466.8" y2="350.6" stroke="#999" stroke-width="1" />
<line x1="517.2" y1="339.1" x2="517.2" y2="367.6" stroke="#999" stroke-width="1" />
<text x="348.8" y="349.9" font-size="8.6" font-weight="bold" text-anchor="middle" textLength="37.4" lengthAdjust="spacingAndGlyphs" transform="translate(0 349.9) scale(1 1.06) translate(0 -349.9)" >WT spleen</text>
<text x="397.3" y="349.9" font-size="8.6" font-weight="bold" text-anchor="middle" textLength="37" lengthAdjust="spacingAndGlyphs" transform="translate(0 349.9) scale(1 1.06) translate(0 -349.9)" >C3<tspan font-size="5" dy="-3">-/-</tspan><tspan dy="3"> spleen</tspan></text>
<text x="444.7" y="350.6" font-size="8.6" font-weight="bold" text-anchor="middle" textLength="39.8" lengthAdjust="spacingAndGlyphs" transform="translate(0 350.6) scale(1 1.06) translate(0 -350.6)" >WT spleen</text>
<text x="493.0" y="350.6" font-size="8.6" font-weight="bold" text-anchor="middle" textLength="42.4" lengthAdjust="spacingAndGlyphs" transform="translate(0 350.6) scale(1 1.06) translate(0 -350.6)" >C3<tspan font-size="5" dy="-3">-/-</tspan><tspan dy="3"> spleen</tspan></text>
<text x="371.4" y="366.6" font-size="9.0" font-weight="bold" text-anchor="middle" textLength="63.5" lengthAdjust="spacingAndGlyphs" transform="translate(0 366.6) scale(1 1.06) translate(0 -366.6)" >WT Primary OB</text>
<text x="469.0" y="366.6" font-size="9.0" font-weight="bold" text-anchor="middle" textLength="71.6" lengthAdjust="spacingAndGlyphs" transform="translate(0 366.6) scale(1 1.06) translate(0 -366.6)" >C3<tspan font-size="5.5" dy="-3.3">-/-</tspan><tspan dy="3.3"> Primary OB</tspan></text>
</g></svg>
</body></html>
